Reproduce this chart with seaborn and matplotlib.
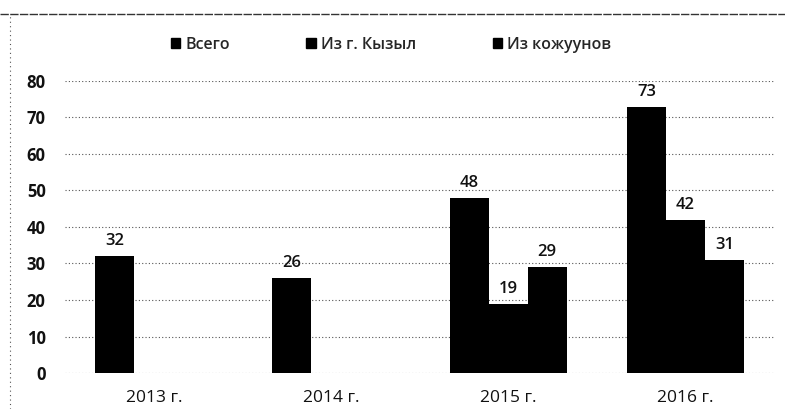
import matplotlib
matplotlib.use("Agg")
import matplotlib.pyplot as plt
import seaborn as sns
import pandas as pd
import numpy as np
from matplotlib.lines import Line2D

years = ["2013 г.", "2014 г.", "2015 г.", "2016 г."]
series = ["Всего", "Из г. Кызыл", "Из кожуунов"]
vsego = [32, 26, 48, 73]
kyzyl = [np.nan, np.nan, 19, 42]
kozhuun = [np.nan, np.nan, 29, 31]
yticks = [0, 10, 20, 30, 40, 50, 60, 70, 80]

rows = []
for name, vals in zip(series, [vsego, kyzyl, kozhuun]):
    for y, v in zip(years, vals):
        if not np.isnan(v):
            rows.append({"Год": y, "Серия": name, "Значение": v})
df = pd.DataFrame(rows)

sns.set_theme(style="white")
plt.rcParams['font.family'] = ['Open Sans', 'DejaVu Sans']

fig = plt.figure(figsize=(7.85, 4.09), dpi=100)
ax = fig.add_axes([0.083, 0.088, 0.903, 0.714])

sns.barplot(data=df, x="Год", y="Значение", hue="Серия", order=years,
            hue_order=series, palette=["#000000"] * 3, width=0.66,
            dodge=True, saturation=1, ax=ax, errorbar=None, legend=False,
            linewidth=0)

for c in ax.containers:
    ax.bar_label(c, fmt="%d", padding=5, fontsize=12, color="#111111",
                 fontweight="semibold")

ax.set_ylim(0, 80)
ax.set_yticks(yticks)
ax.set_xlim(-0.5, 3.5)
ax.set_xlabel("")
ax.set_ylabel("")
ax.tick_params(axis="y", labelsize=12, pad=14, length=0, labelcolor="#111111")
ax.tick_params(axis="x", labelsize=12.5, pad=12, length=0, labelcolor="#111111")
for lab in ax.get_yticklabels():
    lab.set_fontweight("bold")
for lab in ax.get_xticklabels():
    lab.set_fontweight("medium")
ax.grid(axis="y", linestyle=(0, (1, 2)), color="#555555", linewidth=0.8)
ax.set_axisbelow(True)
for s in ax.spines.values():
    s.set_visible(False)

handles = [plt.Rectangle((0, 0), 1, 1, color="black") for _ in series]
leg = fig.legend(handles, series, loc="center", bbox_to_anchor=(0.498, 0.89), ncol=3,
                 frameon=False, fontsize=11.5, handlelength=0.6, handleheight=0.6,
                 handletextpad=0.3, columnspacing=4.8)
for t in leg.get_texts():
    t.set_fontweight("semibold")

fig.add_artist(Line2D([0.0, 1.0], [0.966, 0.966], transform=fig.transFigure,
                      color="#333333", linewidth=1.0, linestyle=(0, (6, 1))))
fig.add_artist(Line2D([0.013, 0.013], [0.0, 0.966], transform=fig.transFigure,
                      color="#555555", linewidth=0.8, linestyle=(0, (1, 3))))

fig.savefig("out.png", dpi=100)
